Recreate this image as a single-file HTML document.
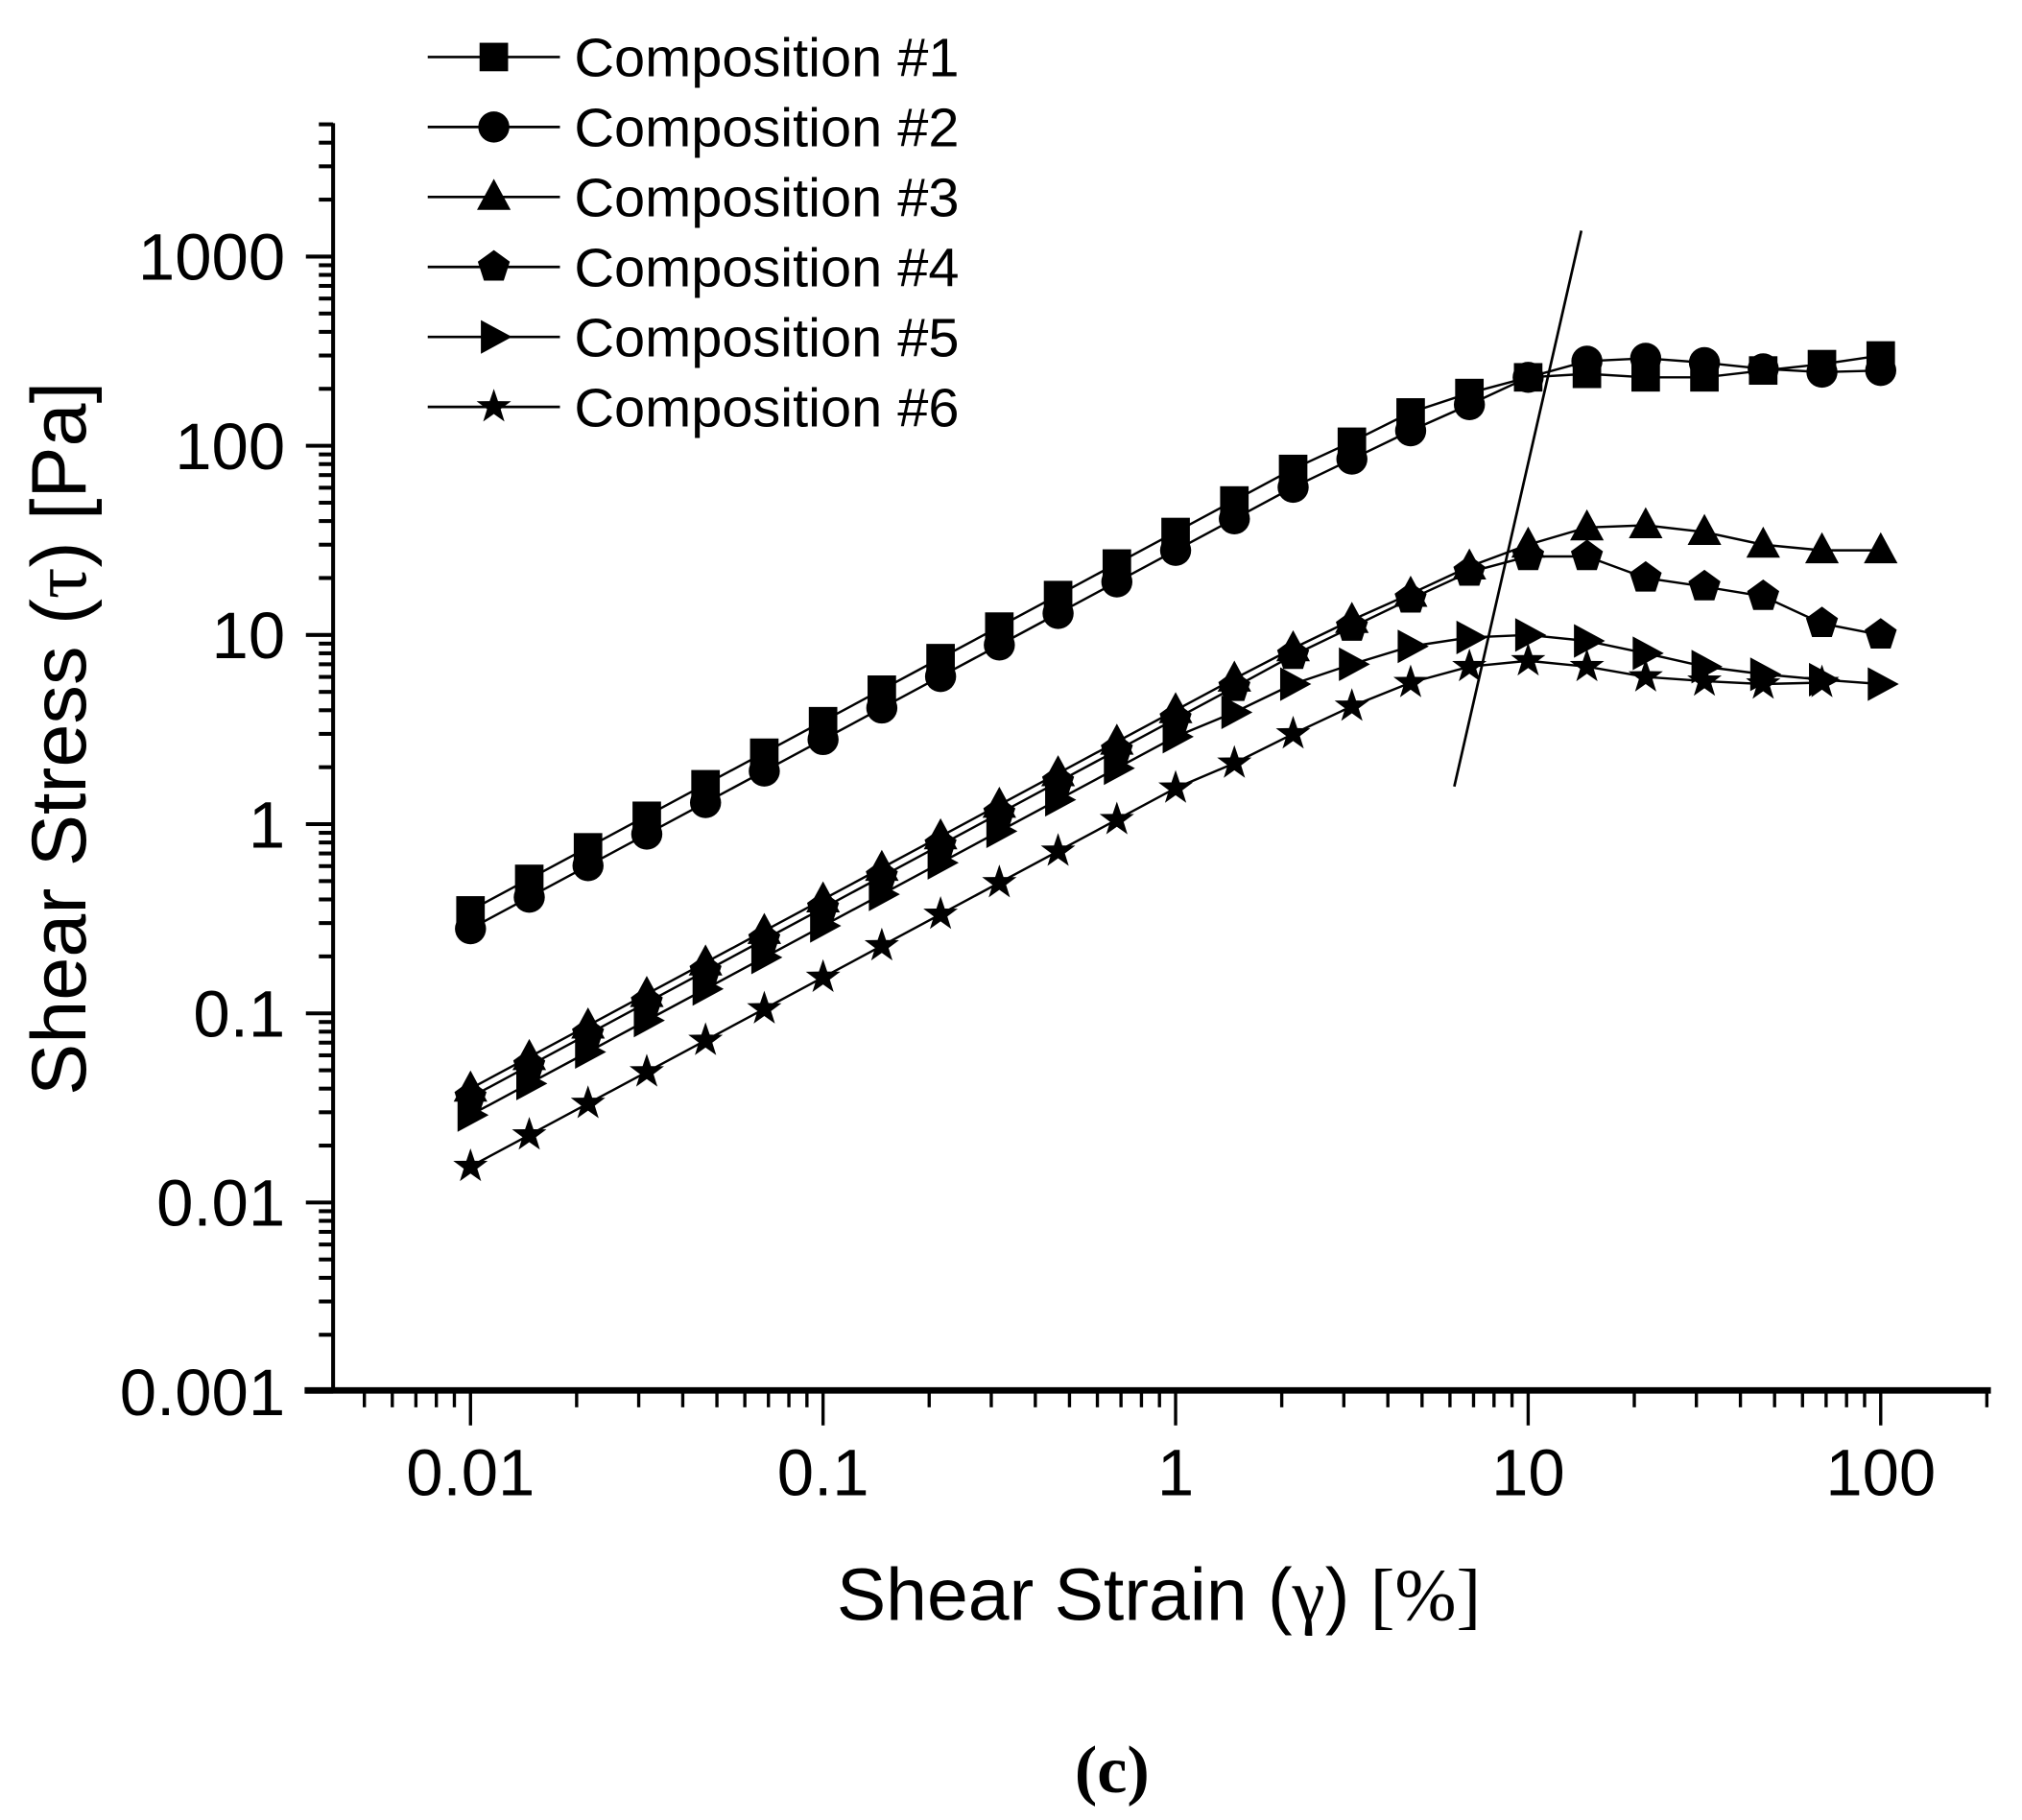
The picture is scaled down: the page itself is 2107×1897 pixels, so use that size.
<!DOCTYPE html>
<html><head><meta charset="utf-8"><style>html,body{margin:0;padding:0;background:#fff}svg{display:block}</style></head>
<body>
<svg id="s" xmlns="http://www.w3.org/2000/svg" width="2107" height="1897" viewBox="0 0 1560 1404.5" preserveAspectRatio="none" font-family="Liberation Sans, Arial, sans-serif">
<rect width="1560" height="1404.5" fill="#fff"/>
<g id="g"></g>
<text x="0" y="0" transform="translate(66,570) rotate(-90)" font-size="60" text-anchor="middle">Shear Stress (<tspan font-family="Liberation Serif, serif">τ</tspan>) [Pa]</text>
<text x="894" y="1250" font-size="57" text-anchor="middle">Shear Strain (<tspan font-family="Liberation Serif, serif">γ</tspan>) <tspan font-family="Liberation Serif, serif">[%]</tspan></text>
<text x="858" y="1383" font-size="52" text-anchor="middle" font-family="Liberation Serif, serif" font-weight="bold">(c)</text>
</svg>
<script>
var g=document.getElementById('g'),h='';
function X(v){return 363+272*Math.log10(v/0.01);}
function Y(v){return 928-146*Math.log10(v/0.01);}
h+='<line x1="257" y1="95" x2="257" y2="1073" stroke="#000" stroke-width="3"/>';
h+='<line x1="235" y1="1073" x2="1536" y2="1073" stroke="#000" stroke-width="5"/>';
var ylab=['0.001','0.01','0.1','1','10','100','1000'];
for(var d=-3;d<=3;d++){var y=Y(Math.pow(10,d));
 h+='<line x1="236" y1="'+y+'" x2="257" y2="'+y+'" stroke="#000" stroke-width="3"/>';
 h+='<text x="220" y="'+(y+18)+'" font-size="51" text-anchor="end">'+ylab[d+3]+'</text>';
 for(var m=2;m<=9;m++){var yy=Y(m*Math.pow(10,d)); if(yy<95)continue;
  h+='<line x1="246" y1="'+yy+'" x2="257" y2="'+yy+'" stroke="#000" stroke-width="3"/>';}}
var xlab=['0.01','0.1','1','10','100'];
for(var d=-3;d<=2;d++){var x=X(Math.pow(10,d));
 if(d>=-2){h+='<line x1="'+x+'" y1="1073" x2="'+x+'" y2="1100" stroke="#000" stroke-width="2.5"/>';
 h+='<text x="'+x+'" y="1154" font-size="51" text-anchor="middle">'+xlab[d+2]+'</text>';}
 for(var m=2;m<=9;m++){var xx=X(m*Math.pow(10,d)); if(xx<255||xx>1537)continue;
  h+='<line x1="'+xx+'" y1="1073" x2="'+xx+'" y2="1086" stroke="#000" stroke-width="2.5"/>';}}
function mk(t,x,y){var r=11;
 if(t==0)return '<rect x="'+(x-r)+'" y="'+(y-r)+'" width="'+2*r+'" height="'+2*r+'"/>';
 if(t==1)return '<circle cx="'+x+'" cy="'+y+'" r="'+(r+1)+'"/>';
 if(t==2)return '<polygon points="'+x+','+(y-r-3)+' '+(x+r+2)+','+(y+r-1)+' '+(x-r-2)+','+(y+r-1)+'"/>';
 if(t==3){var p=[];for(var i=0;i<5;i++){var a=-Math.PI/2+i*2*Math.PI/5;p.push((x+13*Math.cos(a))+','+(y+13*Math.sin(a)));}return '<polygon points="'+p.join(' ')+'"/>';}
 if(t==4)return '<polygon points="'+(x-10)+','+(y-13)+' '+(x+14)+','+y+' '+(x-10)+','+(y+13)+'"/>';
 var p=[];for(var i=0;i<10;i++){var a=-Math.PI/2+i*Math.PI/5,R=i%2?5.5:14;p.push((x+R*Math.cos(a))+','+(y+R*Math.sin(a)));}return '<polygon points="'+p.join(' ')+'"/>';}
var xs=[];for(var k=0;k<=24;k++)xs.push(0.01*Math.pow(10,k/6));
function ser(a,tail,n){n=n||25;var v=[];for(var k=0;k<n;k++){v.push(a*xs[k]/0.01);}
 for(var i=0;i<tail.length;i++)v[n-tail.length+i]=tail[i];return v;}
var S=[
 ser(0.35,[105,150,190,230,240,230,230,250,270,300]),
 ser(0.28,[85,120,165,230,280,290,275,255,245,250]),
 ser(0.04,[8.5,12,16.5,23,30,37,38,35,30,28,28]),
 ser(0.036,[7.8,11,15.5,21.5,26,26,20,18,16,11.5,10]),
 ser(0.029,[3.9,5.5,7,8.7,9.7,10,9.3,8,6.8,6.2,5.8,5.5]),
 ser(0.0155,[2.1,3,4.2,5.6,6.8,7.3,6.8,6,5.7,5.5,5.6],24)
];
var ls='',ms='';
for(var s=0;s<6;s++){var pts=[];for(var k=0;k<S[s].length;k++){var x=X(xs[k]),y=Y(S[s][k]);pts.push(x+','+y);ms+=mk(s,x,y);}
 ls+='<polyline points="'+pts.join(' ')+'" fill="none" stroke="#000" stroke-width="1.8"/>';}
h+=ls+'<g fill="#000">'+ms+'</g>';
h+='<line x1="1122" y1="607" x2="1220" y2="178" stroke="#000" stroke-width="2"/>';
for(var s=0;s<6;s++){var y=44+54*s;
 h+='<line x1="330" y1="'+y+'" x2="432" y2="'+y+'" stroke="#000" stroke-width="2"/>';
 h+='<g fill="#000">'+mk(s,381,y)+'</g>';
 h+='<text x="443" y="'+(y+15)+'" font-size="42" textLength="297" lengthAdjust="spacingAndGlyphs">Composition #'+(s+1)+'</text>';}
g.innerHTML=h;
</script>
</body></html>
